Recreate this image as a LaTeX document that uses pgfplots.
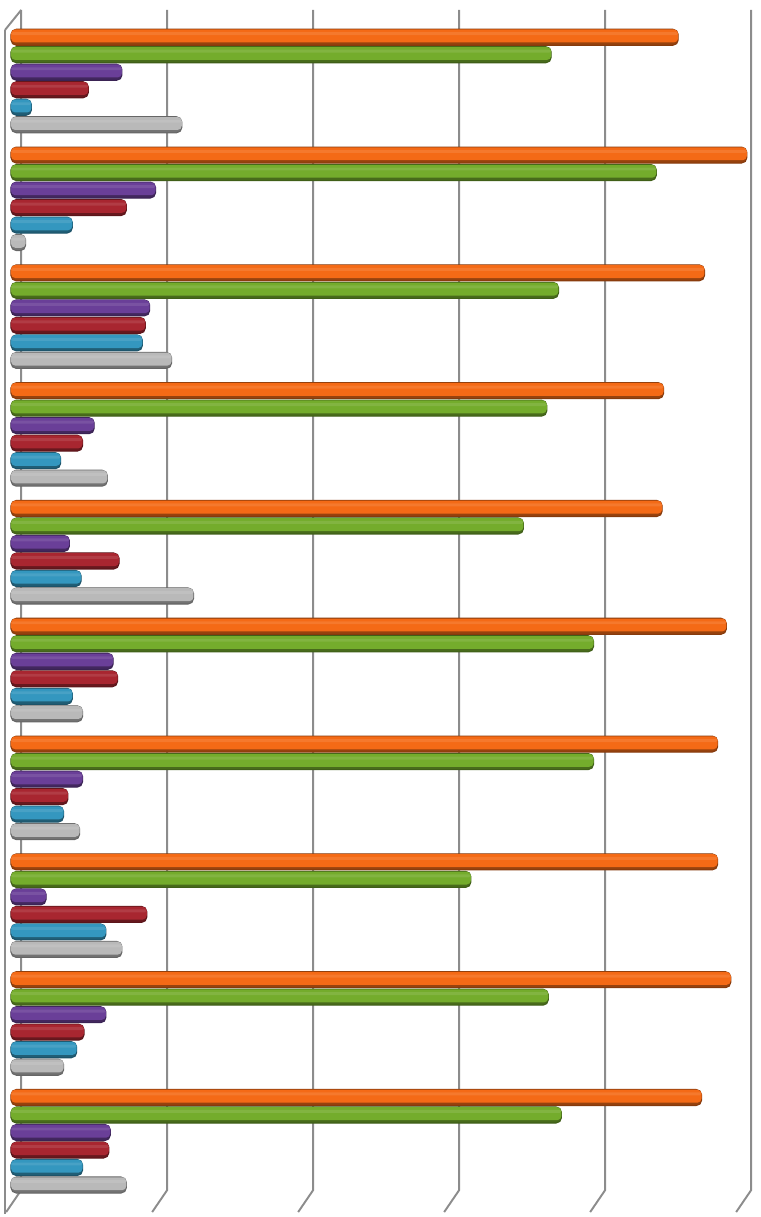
\documentclass[border=0pt]{standalone}
\usepackage{pgfplots}
\pgfplotsset{compat=1.18}
\usepackage{pgfplotstable}
\definecolor{cOr}{HTML}{F46A16}
\definecolor{cGr}{HTML}{74AC2C}
\definecolor{cPu}{HTML}{6A3F98}
\definecolor{cRe}{HTML}{A82630}
\definecolor{cBl}{HTML}{3497BF}
\definecolor{cGy}{HTML}{B9B9B9}
\definecolor{gridc}{HTML}{8C8C8C}
\pgfplotstableread{
g  or   gr   pu   re   bl   gy
0  4.57 3.70 0.76 0.53 0.14 1.17
1  5.04 4.42 0.99 0.79 0.42 0.10
2  4.75 3.75 0.95 0.92 0.90 1.10
3  4.47 3.67 0.57 0.49 0.34 0.66
4  4.46 3.51 0.40 0.74 0.48 1.25
5  4.90 3.99 0.70 0.73 0.42 0.49
6  4.84 3.99 0.49 0.39 0.36 0.47
7  4.84 3.15 0.24 0.93 0.65 0.76
8  4.93 3.68 0.65 0.50 0.45 0.36
9  4.73 3.77 0.68 0.67 0.49 0.79
}\datatab
% #1 colour, #2 column, #3 base shift, #4 body shift, #5 highlight shift
\newcommand{\ser}[5]{%
\addplot[xbar, bar shift=#3, bar width=0.136, draw=#1!55!black, line width=0.3pt, fill=#1!62!black, rounded corners=1.5pt] table[x=#2, y=g] {\datatab};
\addplot[xbar, bar shift=#4, bar width=0.11, draw=none, fill=#1, rounded corners=1.2pt] table[x=#2, y=g] {\datatab};
\addplot[xbar, bar shift=#5, bar width=0.025, draw=none, fill=#1!90!white, rounded corners=0.5pt] table[x=#2, y=g] {\datatab};
}
\begin{document}
\begin{tikzpicture}
\begin{axis}[
  name=ax,
  scale only axis,
  width=7.61cm, height=12.17cm,
  xmin=-0.0753, xmax=5.137,
  ymin=-0.6876, ymax=9.643,
  y dir=reverse,
  axis lines=none,
  xbar,
  clip=false,
]
% decorative 3D walls / grid lines (drawn first, behind the bars)
\draw[gridc, line width=0.55pt] (axis cs:-0.041,-0.433) -- (axis cs:0.07,-0.603);
\draw[gridc, line width=0.55pt] (axis cs:-0.041,-0.433) -- (axis cs:-0.041,9.62);
\draw[gridc, line width=0.55pt] (axis cs:0.07,-0.603) -- (axis cs:0.07,9.414) -- (axis cs:-0.033,9.601);
\draw[gridc, line width=0.55pt] (axis cs:1.07,-0.603) -- (axis cs:1.07,9.414) -- (axis cs:0.967,9.601);
\draw[gridc, line width=0.55pt] (axis cs:2.07,-0.603) -- (axis cs:2.07,9.414) -- (axis cs:1.967,9.601);
\draw[gridc, line width=0.55pt] (axis cs:3.07,-0.603) -- (axis cs:3.07,9.414) -- (axis cs:2.967,9.601);
\draw[gridc, line width=0.55pt] (axis cs:4.07,-0.603) -- (axis cs:4.07,9.414) -- (axis cs:3.967,9.601);
\draw[gridc, line width=0.55pt] (axis cs:5.07,-0.603) -- (axis cs:5.07,9.414) -- (axis cs:4.967,9.601);
\ser{cOr}{or}{-0.3715}{-0.3825}{-0.4015}
\ser{cGr}{gr}{-0.2229}{-0.2339}{-0.2529}
\ser{cPu}{pu}{-0.0743}{-0.0853}{-0.1043}
\ser{cRe}{re}{0.0743}{0.0633}{0.0443}
\ser{cBl}{bl}{0.2229}{0.2119}{0.1929}
\ser{cGy}{gy}{0.3715}{0.3605}{0.3415}
\end{axis}
\pgfresetboundingbox
\path[use as bounding box] (ax.south west) rectangle (ax.north east);
\end{tikzpicture}
\end{document}
